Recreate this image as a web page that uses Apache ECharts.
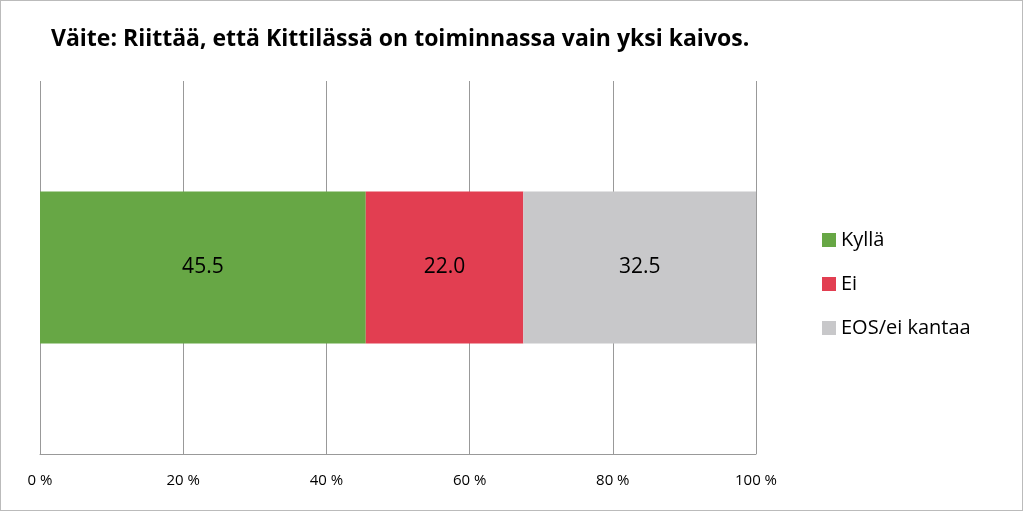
<!DOCTYPE html>
<html><head><meta charset="utf-8">
<script src="https://cdn.jsdelivr.net/npm/echarts@6/dist/echarts.min.js"></script>
<style>html,body{margin:0;padding:0;background:#fff}#c{width:1023px;height:511px;box-sizing:border-box;border:1px solid #bbb}</style>
</head><body><div id="c"></div>
<script>
const categories = ['Väite'];
const seriesNames = ['Kyllä', 'Ei', 'EOS/ei kantaa'];
const kylla = [45.5];
const ei = [22.0];
const eos = [32.5];
const colors = ['#67a745', '#e23e51', '#c8c8ca'];
const chart = echarts.init(document.getElementById('c'));
const vals = [kylla, ei, eos];
chart.setOption({
  animation: false,
  title: {text: 'Väite: Riittää, että Kittilässä on toiminnassa vain yksi kaivos.', left: 45, top: 22,
    textStyle: {fontFamily: 'Open Sans', fontWeight: 'bold', fontSize: 23, color: '#000'}},
  legend: {orient: 'vertical', left: 816, top: 224, itemGap: 24, itemWidth: 14, itemHeight: 14, icon: 'rect',
    textStyle: {fontFamily: 'Open Sans', fontSize: 20, color: '#000'}},
  grid: {left: 39, right: 266, top: 80, bottom: 56},
  xAxis: {type: 'value', min: 0, max: 100, interval: 20,
    axisLine: {show: true, lineStyle: {color: '#999'}}, axisTick: {show: false},
    splitLine: {lineStyle: {color: '#999'}},
    axisLabel: {formatter: '{value} %', fontFamily: 'Open Sans', fontSize: 15, color: '#000', margin: 19}},
  yAxis: {type: 'category', data: categories, show: false},
  series: seriesNames.map((n, i) => ({
    name: n, type: 'bar', stack: 'a', data: vals[i], barWidth: 152,
    itemStyle: {color: colors[i]},
    label: {show: true, formatter: p => p.value.toFixed(1), fontFamily: 'Open Sans', fontSize: 21, color: '#000'}
  }))
});
</script></body></html>
